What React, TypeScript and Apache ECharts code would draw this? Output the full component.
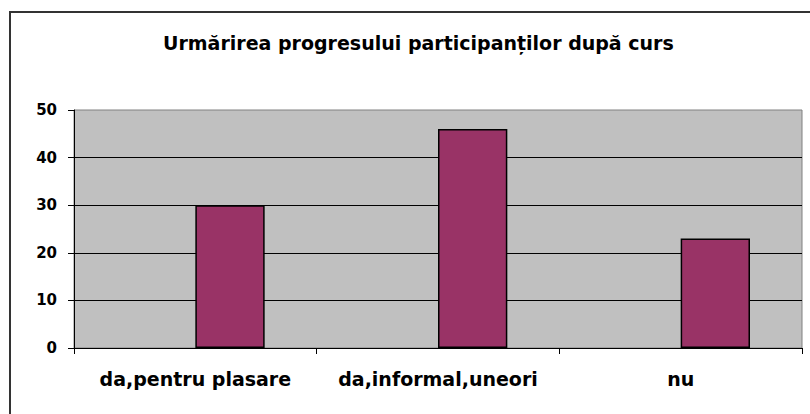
import React, { useEffect, useRef } from "react";
import * as echarts from "echarts";

const titleText = "Urmărirea progresului participanților după curs";
const categories = ["da,pentru plasare", "da,informal,uneori", "nu"];
const emptySeries = ["-", "-", "-"];
const values = [30, 46, 23];
const yMin = 0;
const yMax = 50;
const yInterval = 10;

export default function App() {
  const ref = useRef<HTMLDivElement>(null);
  useEffect(() => {
    if (!ref.current) return;
    const chart = echarts.init(ref.current, null, { renderer: "svg" });
    const font = "DejaVu Sans";
    chart.setOption({
      animation: false,
      backgroundColor: "#ffffff",
      title: {
        text: titleText,
        left: 158,
        top: 28,
        textStyle: {
          fontFamily: font,
          fontWeight: "bold",
          fontSize: 19,
          color: "#000",
        },
      },
      graphic: [
        {
          type: "rect",
          shape: { x: 10, y: 12, width: 900, height: 500 },
          style: { fill: "none", stroke: "#333", lineWidth: 2 },
          z: 100,
        },
      ],
      grid: {
        left: 74,
        right: 8,
        top: 110,
        bottom: 66,
        show: true,
        backgroundColor: "#C0C0C0",
        borderColor: "#808080",
        borderWidth: 1,
      },
      xAxis: {
        type: "category",
        data: categories,
        axisLine: { show: true, lineStyle: { color: "#000", width: 1 } },
        axisTick: { show: true, length: 6, lineStyle: { color: "#000" } },
        axisLabel: {
          margin: 21,
          fontFamily: font,
          fontWeight: "bold",
          fontSize: 19,
          color: "#000",
          interval: 0,
        },
        splitLine: { show: false },
      },
      yAxis: {
        type: "value",
        min: yMin,
        max: yMax,
        interval: yInterval,
        axisLine: { show: true, lineStyle: { color: "#000", width: 1 } },
        axisTick: { show: true, length: 6, lineStyle: { color: "#000" } },
        axisLabel: {
          margin: 17,
          fontFamily: font,
          fontWeight: "bold",
          fontSize: 15,
          color: "#000",
        },
        splitLine: {
          show: true,
          showMaxLine: false,
          lineStyle: { color: "#000", width: 1 },
        },
      },
      series: [
        {
          type: "bar",
          data: emptySeries,
          barGap: "0%",
          barCategoryGap: "42.86%",
        },
        {
          type: "bar",
          data: values,
          barGap: "0%",
          barCategoryGap: "42.86%",
          itemStyle: { color: "#993366", borderColor: "#000", borderWidth: 1.5 },
        },
      ],
    });
    return () => chart.dispose();
  }, []);
  return (
    <div
      ref={ref}
      style={{ position: "fixed", left: 0, top: 0, width: 810, height: 414 }}
    />
  );
}
